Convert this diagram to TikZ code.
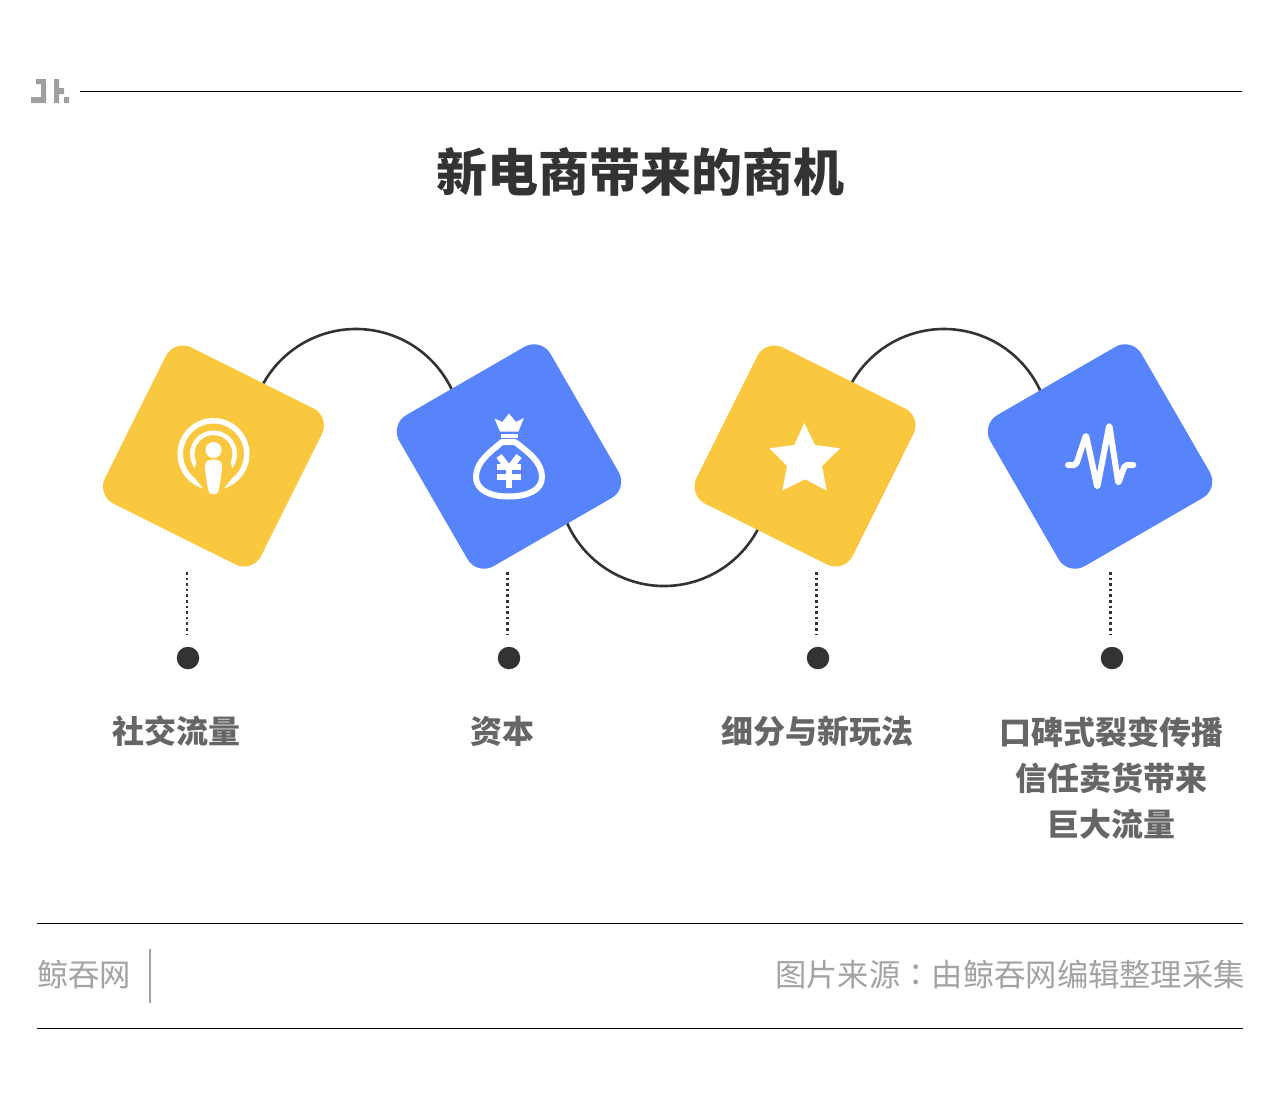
\documentclass[tikz,border=0pt]{standalone}
\usepackage{fontspec}
\setmainfont{Noto Sans CJK SC}
\newfontfamily\tcfont{Noto Sans CJK TC}
\usetikzlibrary{calc}
\definecolor{cyel}{HTML}{FAC83F}
\definecolor{cblu}{HTML}{5783FB}
\definecolor{cdark}{HTML}{333333}
\definecolor{clab}{HTML}{666666}
\definecolor{cfoot}{HTML}{A3A3A3}
\definecolor{clogo}{HTML}{A0A0A0}
\tikzset{
  tile/.style={minimum size=174.5pt,rounded corners=19pt,inner sep=0pt,outer sep=0pt,draw=none},
  ytile/.style={tile,fill=cyel,rotate=-26.5},
  btile/.style={tile,fill=cblu,rotate=30},
  wave/.style={draw=cdark,line width=2.6pt},
  stem/.style={draw=cdark,line width=2.4pt,dash pattern=on 2.6pt off 3pt},
  dotn/.style={circle,fill=cdark,minimum size=22.5pt,inner sep=0pt,outer sep=0pt},
  rule/.style={draw=black,line width=1.3pt},
  lab/.style={font=\fontsize{32}{46}\selectfont\bfseries,text=clab,align=center,inner sep=0pt},
  foot/.style={font=\fontsize{31.3}{36}\selectfont,text=cfoot,inner sep=0pt},
  iconline/.style={draw=white,line join=round}
}
\begin{document}
\begin{tikzpicture}[x=1pt,y=1pt]
\useasboundingbox (0,0) rectangle (1280,-1114);
\fill[white] (0,0) rectangle (1280,-1114);
% logo
\fill[clogo] (36,-79) rectangle (46,-84) (41,-79) rectangle (46,-103) (31,-97) rectangle (46,-103)
  (54,-79) rectangle (59,-103) (59,-88) rectangle (64,-94) (64,-97) rectangle (69,-103);
\coordinate (ruleA) at (80,-91.5); \coordinate (ruleB) at (1242,-91.5);
\draw[rule] (ruleA) -- (ruleB);
\node[font=\fontsize{51}{60}\selectfont\bfseries,text=cdark,inner sep=0pt] (title) at (640.5,-171.5) {新电商带来的商机};
% wave arcs (behind tiles)
\coordinate (w1) at ($(356,-435)+(165:106)$);
\coordinate (w2) at ($(664,-480)+(-165:106)$);
\coordinate (w3) at ($(944,-435)+(165:106)$);
\draw[wave] (w1) arc[start angle=165,end angle=15,radius=106];
\draw[wave] (w2) arc[start angle=195,end angle=345,radius=106];
\draw[wave] (w3) arc[start angle=165,end angle=15,radius=106];
% tiles
\node[ytile] (t1) at (213.5,-456) {};
\node[btile] (t2) at (509,-456.5) {};
\node[ytile] (t3) at (805,-456) {};
\node[btile] (t4) at (1100,-456.5) {};
% podcast icon
\coordinate (pc) at (213.5,-454);
\fill[white] ($(pc)+(253:36)$) arc[start angle=253,end angle=-73,radius=36] -- ($(pc)+(-52:30.5)$) arc[start angle=-52,end angle=232,radius=30.5] -- cycle;
\fill[white] ($(pc)+(218:23.5)$) arc[start angle=218,end angle=-38,radius=23.5] -- ($(pc)+(-24:19)$) arc[start angle=-24,end angle=204,radius=19] -- cycle;
\fill[white] (213.5,-450) circle[radius=8];
\fill[white] (205,-466) .. controls (205,-461) and (209,-459.5) .. (213.5,-459.5) .. controls (218,-459.5) and (222,-461) .. (222,-466)
  .. controls (222,-472) and (219.5,-488) .. (218,-492) .. controls (217,-495) and (210,-495) .. (209,-492) .. controls (207.5,-488) and (205,-472) .. (205,-466) -- cycle;
% money bag icon
\fill[white] (494.5,-418.5) -- (502.3,-422) -- (509,-413.5) -- (516,-422) -- (523.8,-418) -- (518.5,-431.5) -- (500,-431.5) -- cycle;
\fill[white] (500.7,-433.5) rectangle (517.7,-437.5);
\draw[iconline,line width=6pt] (502,-442) .. controls (490,-452) and (476,-462) .. (476,-477) .. controls (476,-490) and (490,-496.5) .. (508.5,-496.5) .. controls (528,-496.5) and (542,-490) .. (542,-477) .. controls (542,-462) and (528,-452) .. (515,-442) -- cycle;
\draw[iconline,line width=6.5pt] (499,-456) -- (509,-469) -- (519,-456);
\draw[iconline,line width=6.5pt] (509,-467) -- (509,-487.5);
\draw[iconline,line width=6pt] (496.7,-466.5) -- (521,-466.5) (496.7,-476.7) -- (521,-476.7);
% star icon
\fill[white,line join=round] (804.3,-423) -- (815,-445) -- (840,-448.3) -- (822,-466) -- (826.7,-490.5) -- (805,-479.3) -- (782.3,-490.5) -- (787,-466) -- (769.3,-448.3) -- (794.3,-445) -- cycle;
% pulse icon
\draw[iconline,line width=6pt,line cap=round,rounded corners=2pt] (1068,-465) -- (1076,-465) -- (1086,-435) -- (1097.3,-487.3) -- (1109.3,-425) -- (1118.3,-483.3) -- (1125,-465) -- (1133.3,-465);
% stems & dots
\node[dotn] (d1) at (188,-658) {};
\node[dotn] (d2) at (509,-658) {};
\node[dotn] (d3) at (818,-658) {};
\node[dotn] (d4) at (1112,-658) {};
\coordinate (s1) at (187,-572); \coordinate (e1) at (187,-634);
\coordinate (s2) at (507.5,-572); \coordinate (e2) at (507.5,-634);
\coordinate (s3) at (816.5,-572); \coordinate (e3) at (816.5,-634);
\coordinate (s4) at (1110.5,-572); \coordinate (e4) at (1110.5,-634);
\draw[stem] (s1) -- (e1);
\draw[stem] (s2) -- (e2);
\draw[stem] (s3) -- (e3);
\draw[stem] (s4) -- (e4);
% labels
\node[lab] (l1) at (176,-731.5) {社交流量};
\node[lab] (l2) at (502.5,-731.5) {资本};
\node[lab] (l3) at (817.5,-731.5) {细分与新玩法};
\node[lab,anchor=north] (l4) at (1111.5,-716.5) {口碑式裂变传播\\信任卖货带来\\巨大流量};
% footer
\coordinate (f1a) at (37,-923.5); \coordinate (f1b) at (1243,-923.5);
\coordinate (f2a) at (37,-1028.5); \coordinate (f2b) at (1243,-1028.5);
\draw[rule] (f1a) -- (f1b);
\draw[rule] (f2a) -- (f2b);
\node[foot,anchor=west] (brand) at (37,-974.5) {鲸吞网};
\coordinate (va) at (150,-949); \coordinate (vb) at (150,-1003);
\draw[draw=cfoot,line width=1.2pt] (va) -- (vb);
\node[foot,anchor=east] (src) at (1245,-974.5) {图片来源{\tcfont ：}由鲸吞网编辑整理采集};
\end{tikzpicture}
\end{document}
